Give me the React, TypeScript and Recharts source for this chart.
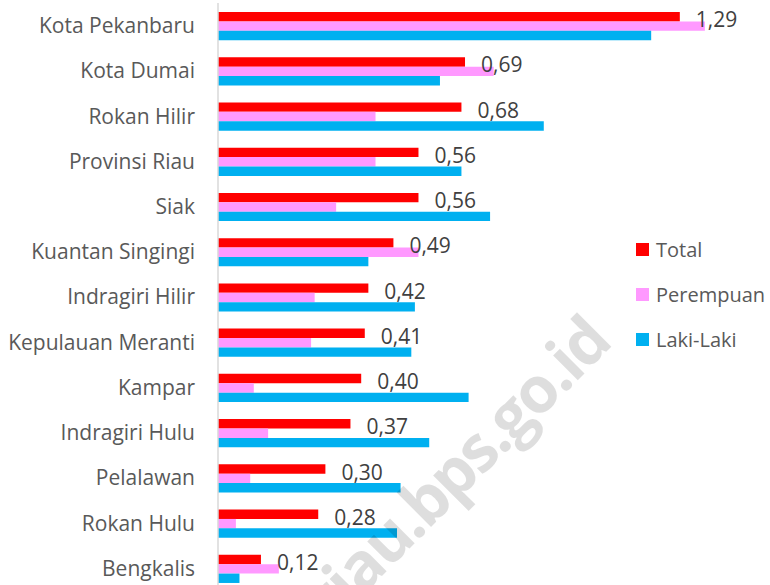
import { Bar, BarChart, LabelList, XAxis, YAxis } from 'recharts';

const categories = [
  'Kota Pekanbaru',
  'Kota Dumai',
  'Rokan Hilir',
  'Provinsi Riau',
  'Siak',
  'Kuantan Singingi',
  'Indragiri Hilir',
  'Kepulauan Meranti',
  'Kampar',
  'Indragiri Hulu',
  'Pelalawan',
  'Rokan Hulu',
  'Bengkalis',
];
const total = [1.29, 0.69, 0.68, 0.56, 0.56, 0.49, 0.42, 0.41, 0.4, 0.37, 0.3, 0.28, 0.12];
const perempuan = [1.36, 0.77, 0.44, 0.44, 0.33, 0.56, 0.27, 0.26, 0.1, 0.14, 0.09, 0.05, 0.17];
const lakiLaki = [1.21, 0.62, 0.91, 0.68, 0.76, 0.42, 0.55, 0.54, 0.7, 0.59, 0.51, 0.5, 0.06];

const series = [
  { key: 'total', name: 'Total', color: '#FF0000' },
  { key: 'perempuan', name: 'Perempuan', color: '#FF99FF' },
  { key: 'laki', name: 'Laki-Laki', color: '#00B0F0' },
];

const data = categories.map((name, i) => ({
  name,
  total: total[i],
  perempuan: perempuan[i],
  laki: lakiLaki[i],
}));

const FONT = '"Open Sans", sans-serif';

const ValueLabel = (props: any) => {
  const { x, y, width, height, value } = props;
  return (
    <text x={x + width + 16} y={y + height / 2 + 10.5} fill="#404040" fontSize={21} fontFamily={FONT}>
      {Number(value).toFixed(2).replace('.', ',')}
    </text>
  );
};

export default function App() {
  return (
    <div
      style={{
        position: 'absolute',
        left: 0,
        top: 0,
        width: 770,
        height: 585,
        overflow: 'hidden',
        background: '#fff',
        fontFamily: FONT,
      }}
    >
      <BarChart
        width={770}
        height={600}
        data={data}
        layout="vertical"
        margin={{ top: 3, right: 15, bottom: 9, left: 0 }}
        barGap={0}
        barSize={9.4}
      >
        <XAxis type="number" domain={[0, 1.5]} hide />
        <YAxis
          type="category"
          dataKey="name"
          width={218}
          tickLine={false}
          tickSize={0}
          tickMargin={23}
          axisLine={{ stroke: '#d9d9d9', strokeWidth: 1.5 }}
          tick={{ fill: '#595959', fontSize: 21, fontFamily: FONT }}
          interval={0}
        />
        {series.map((s) => (
          <Bar key={s.key} dataKey={s.key} name={s.name} fill={s.color} isAnimationActive={false}>
            {s.key === 'total' && <LabelList dataKey="total" content={ValueLabel} />}
          </Bar>
        ))}
      </BarChart>

      <div style={{ position: 'absolute', left: 636, top: 227 }}>
        {series.map((s) => (
          <div key={s.key} style={{ display: 'flex', alignItems: 'center', height: 45, whiteSpace: 'nowrap' }}>
            <span style={{ width: 13, height: 13, background: s.color, marginRight: 7, flex: 'none' }} />
            <span style={{ color: '#595959', fontSize: 20 }}>{s.name}</span>
          </div>
        ))}
      </div>

      {/* watermark */}
      <svg width={770} height={585} style={{ position: 'absolute', left: 0, top: 0, pointerEvents: 'none' }}>
        <text
          x={332}
          y={626}
          transform="rotate(-45 332 626)"
          fontSize={64}
          letterSpacing={-2.5}
          fontWeight="bold"
          fontFamily={FONT}
          fill="#000"
          fillOpacity={0.13}
        >
          riau.bps.go.id
        </text>
      </svg>
    </div>
  );
}
